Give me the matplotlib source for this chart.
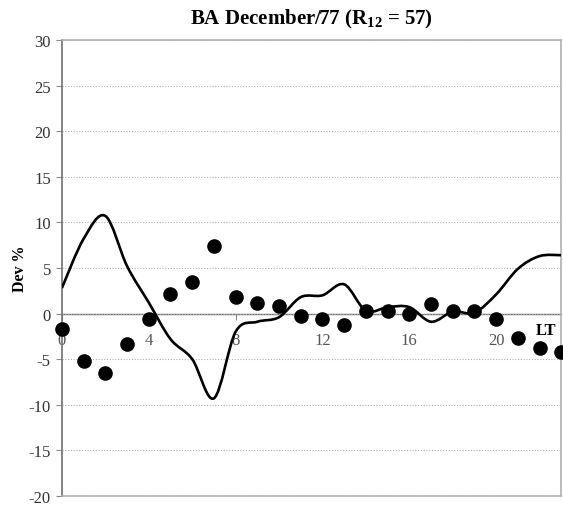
import matplotlib
matplotlib.use("Agg")
import matplotlib.pyplot as plt
import numpy as np
from matplotlib.path import Path
from matplotlib.patches import PathPatch

# local time (h) and deviations (%)
hours = list(range(24))
dev_obs = [-1.7, -5.2, -6.5, -3.3, -0.6, 2.1, 3.5, 7.4, 1.8, 1.1, 0.8, -0.3,
           -0.6, -1.3, 0.3, 0.3, 0.0, 1.0, 0.3, 0.3, -0.6, -2.7, -3.8, -4.2]
dev_model = [2.8, 8.2, 10.7, 5.2, 1.2, -2.8, -5.0, -9.3, -2.0, -0.9, -0.4, 1.8,
             2.0, 3.2, 0.3, 0.7, 0.7, -0.9, 0.2, 0.1, 2.1, 4.9, 6.3, 6.4]
xtick_vals = [0, 4, 8, 12, 16, 20]
ytick_vals = list(range(-20, 31, 5))

plt.rcParams["font.family"] = ["Liberation Serif", "DejaVu Serif"]
plt.rcParams["mathtext.fontset"] = "custom"
plt.rcParams["mathtext.rm"] = "Liberation Serif:bold"
plt.rcParams["mathtext.bf"] = "Liberation Serif:bold"

GRAY = "#8a8a8a"


def smooth_path(x, y):
    # Excel-style smoothed line: Catmull-Rom segments as cubic Beziers
    pts = np.column_stack([x, y]).astype(float)
    n = len(pts)
    verts = [pts[0]]
    codes = [Path.MOVETO]
    for i in range(n - 1):
        p0 = pts[i - 1] if i > 0 else pts[i]
        p1 = pts[i]
        p2 = pts[i + 1]
        p3 = pts[i + 2] if i + 2 < n else pts[i + 1]
        c1 = p1 + (p2 - p0) / 6.0
        c2 = p2 - (p3 - p1) / 6.0
        verts += [c1, c2, p2]
        codes += [Path.CURVE4] * 3
    return Path(verts, codes)


fig = plt.figure(figsize=(5.63, 5.06), dpi=100)
ax = fig.add_axes([0.110, 0.018, 0.887, 0.901])

ax.set_xlim(0, 23)
ax.set_ylim(-20, 30)

ax.add_patch(PathPatch(smooth_path(hours, dev_model), facecolor="none",
                       edgecolor="black", lw=1.9, zorder=3))
ax.plot(hours, dev_obs, "o", color="black", markersize=9.5, zorder=4,
        clip_on=False)

# frame
for side in ["top", "right", "bottom"]:
    ax.spines[side].set_color("#b0b0b0")
    ax.spines[side].set_linewidth(1.2)
ax.spines["left"].set_color("#707070")
ax.spines["left"].set_linewidth(1.2)

ax.set_yticks(ytick_vals)
ax.set_yticklabels([str(v) for v in ytick_vals])
ax.tick_params(axis="y", direction="out", length=4, color=GRAY,
               labelsize=12, labelcolor="#333333", pad=4)
ax.set_xticks([])
ax.yaxis.grid(True, linestyle=(0, (1, 1.5)), color="#b0b0b0", lw=0.8)
ax.set_axisbelow(True)

# x axis drawn along the zero line
sec = ax.secondary_xaxis(20 / 50)
sec.set_xticks(xtick_vals)
sec.set_xticklabels([str(v) for v in xtick_vals])
sec.spines["bottom"].set_color("#707070")
sec.spines["bottom"].set_linewidth(1.0)
sec.tick_params(direction="out", length=4, color=GRAY, labelsize=12,
                labelcolor="#555555", pad=9)
ax.text(22.3, -0.9, "LT", fontsize=12, fontweight="bold", ha="center",
        va="top")

ax.set_ylabel("Dev %", fontsize=11.5, fontweight="bold", labelpad=0)
ax.set_title(r"BA December/77 (R$_{12}$ = 57)", fontsize=15,
             fontweight="bold", pad=12)

fig.savefig("out.png", dpi=100)
